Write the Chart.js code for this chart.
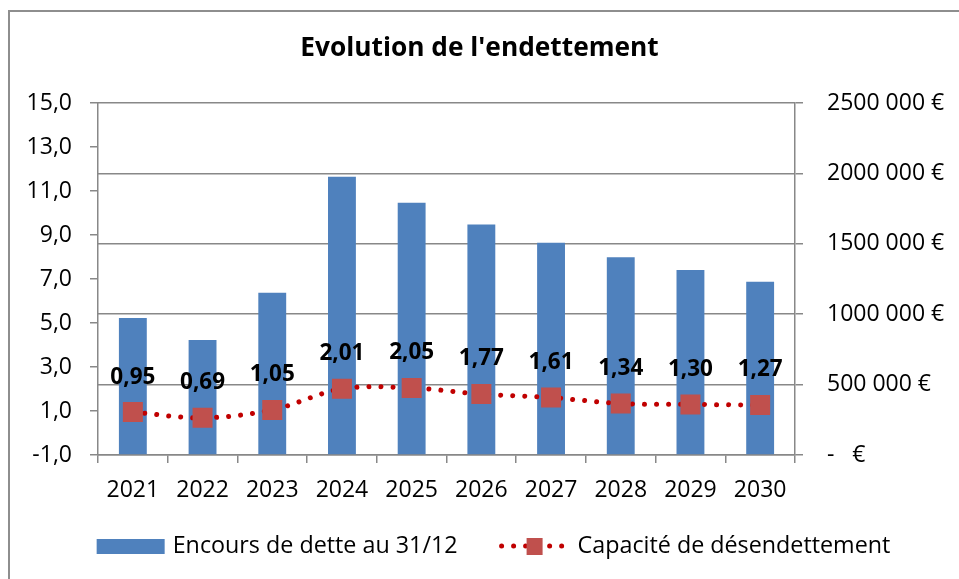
<!DOCTYPE html>
<html lang="fr">
<head>
<meta charset="utf-8">
<title>Evolution de l'endettement</title>
<script src="https://cdn.jsdelivr.net/npm/chart.js@4"></script>
<style>
  html, body { margin: 0; padding: 0; background: #fff; overflow: hidden; }
  canvas { display: block; }
</style>
</head>
<body>
<canvas id="debtChart" width="959" height="579"></canvas>
<script>
// values
const years = ["2021", "2022", "2023", "2024", "2025", "2026", "2027", "2028", "2029", "2030"];
const encours = [973000, 817000, 1153000, 1977000, 1792000, 1638000, 1508000, 1404000, 1314000, 1231000];
const capacite = [0.95, 0.69, 1.05, 2.01, 2.05, 1.77, 1.61, 1.34, 1.30, 1.27];
const rightTickLabels = ["-   €", "500 000 €", "1000 000 €", "1500 000 €", "2000 000 €", "2500 000 €"];

const BLUE = "#4F81BD";
const DOT_RED = "#C00000";
const MARKER_RED = "#C0504D";
const AXIS_GREY = "#888888";
const FONT = "'Open Sans'";

Chart.defaults.font.family = FONT;
Chart.defaults.color = "#000";

const fmt = (v, d) => v.toFixed(d).replace(".", ",");

// grey frame of the chart object (only left and top edges are visible)
const framePlugin = {
  id: "frame",
  beforeDraw(chart) {
    const c = chart.ctx;
    c.save();
    c.fillStyle = "#fff";
    c.fillRect(0, 0, chart.width, chart.height);
    c.strokeStyle = "#8e8e8e";
    c.lineWidth = 2;
    c.beginPath();
    c.moveTo(9, chart.height + 5);
    c.lineTo(9, 11);
    c.lineTo(chart.width + 5, 11);
    c.stroke();
    c.restore();
  }
};

// bold value labels above the squares
const valueLabels = {
  id: "valueLabels",
  afterDatasetsDraw(chart) {
    const meta = chart.getDatasetMeta(1);
    const c = chart.ctx;
    c.save();
    c.font = `bold 22.5px ${FONT}`;
    c.fillStyle = "#000";
    c.textAlign = "center";
    c.textBaseline = "middle";
    meta.data.forEach((pt, i) => {
      c.fillText(fmt(capacite[i], 2), pt.x, pt.y - 35);
    });
    c.restore();
  }
};

// legend drawn by hand so the dotted line + square sample matches
const legendPlugin = {
  id: "customLegend",
  afterDraw(chart) {
    const c = chart.ctx;
    const y = chart.height - 33;
    const label1 = "Encours de dette au 31/12";
    const label2 = "Capacité de désendettement";
    c.save();
    c.font = `23.3px ${FONT}`;
    const w1 = c.measureText(label1).width;
    const w2 = c.measureText(label2).width;
    const total = 68 + 8 + w1 + 42 + 66 + 12 + w2;
    let x = (chart.width - total) / 2 + 14;

    c.fillStyle = BLUE;
    c.fillRect(x, y - 7, 68, 15);
    x += 68 + 8;
    c.fillStyle = "#000";
    c.textBaseline = "middle";
    c.fillText(label1, x, y);
    x += w1 + 42;

    c.strokeStyle = DOT_RED;
    c.lineWidth = 5;
    c.lineCap = "round";
    c.setLineDash([0.01, 12]);
    c.beginPath();
    c.moveTo(x + 2, y);
    c.lineTo(x + 66, y);
    c.stroke();
    c.setLineDash([]);
    c.fillStyle = MARKER_RED;
    c.fillRect(x + 27, y - 8, 16, 17);
    x += 66 + 12;
    c.fillStyle = "#000";
    c.fillText(label2, x, y);
    c.restore();
  }
};

new Chart(document.getElementById("debtChart"), {
  data: {
    labels: years,
    datasets: [
      {
        type: "bar",
        label: "Encours de dette au 31/12",
        data: encours,
        yAxisID: "y2",
        backgroundColor: BLUE,
        barPercentage: 0.4,
        categoryPercentage: 1,
        order: 1
      },
      {
        type: "line",
        label: "Capacité de désendettement",
        data: capacite,
        yAxisID: "y",
        borderColor: DOT_RED,
        borderWidth: 5,
        borderDash: [0.01, 12],
        borderCapStyle: "round",
        tension: 0.33,
        fill: false,
        pointStyle: "rect",
        pointRadius: 14.14,
        pointBackgroundColor: MARKER_RED,
        pointBorderColor: MARKER_RED,
        pointBorderWidth: 0,
        order: 0
      }
    ]
  },
  options: {
    responsive: false,
    animation: false,
    layout: { padding: { left: 0, right: 0, top: 0, bottom: 76 } },
    plugins: {
      legend: { display: false },
      tooltip: { enabled: false },
      title: {
        display: true,
        text: "Evolution de l'endettement",
        font: { size: 26.3, weight: "bold" },
        color: "#000",
        padding: { top: 33, bottom: 38.5 }
      }
    },
    scales: {
      x: {
        offset: true,
        grid: {
          offset: true,
          drawOnChartArea: false,
          drawTicks: true,
          tickLength: 8,
          color: AXIS_GREY,
          lineWidth: 1.5
        },
        border: { color: AXIS_GREY, width: 1.5 },
        ticks: { font: { size: 23 }, padding: 14, maxRotation: 0 },
        afterFit: s => { s.height = 48; }
      },
      y: {
        position: "left",
        min: -1,
        max: 15,
        ticks: {
          stepSize: 2,
          font: { size: 23 },
          padding: 18,
          callback: v => fmt(v, 1)
        },
        grid: {
          drawOnChartArea: false,
          tickLength: 8,
          color: AXIS_GREY,
          lineWidth: 1.5
        },
        border: { color: AXIS_GREY, width: 1.5 },
        afterFit: s => { s.width = 98; }
      },
      y2: {
        position: "right",
        min: 0,
        max: 2500000,
        ticks: {
          stepSize: 500000,
          font: { size: 23 },
          padding: 24,
          callback: (v, i) => rightTickLabels[i]
        },
        grid: {
          drawOnChartArea: true,
          tickLength: 8,
          color: AXIS_GREY,
          lineWidth: 1.5
        },
        border: { color: AXIS_GREY, width: 1.5 },
        afterFit: s => { s.width = 164; }
      }
    }
  },
  plugins: [framePlugin, valueLabels, legendPlugin]
});
</script>
</body>
</html>
